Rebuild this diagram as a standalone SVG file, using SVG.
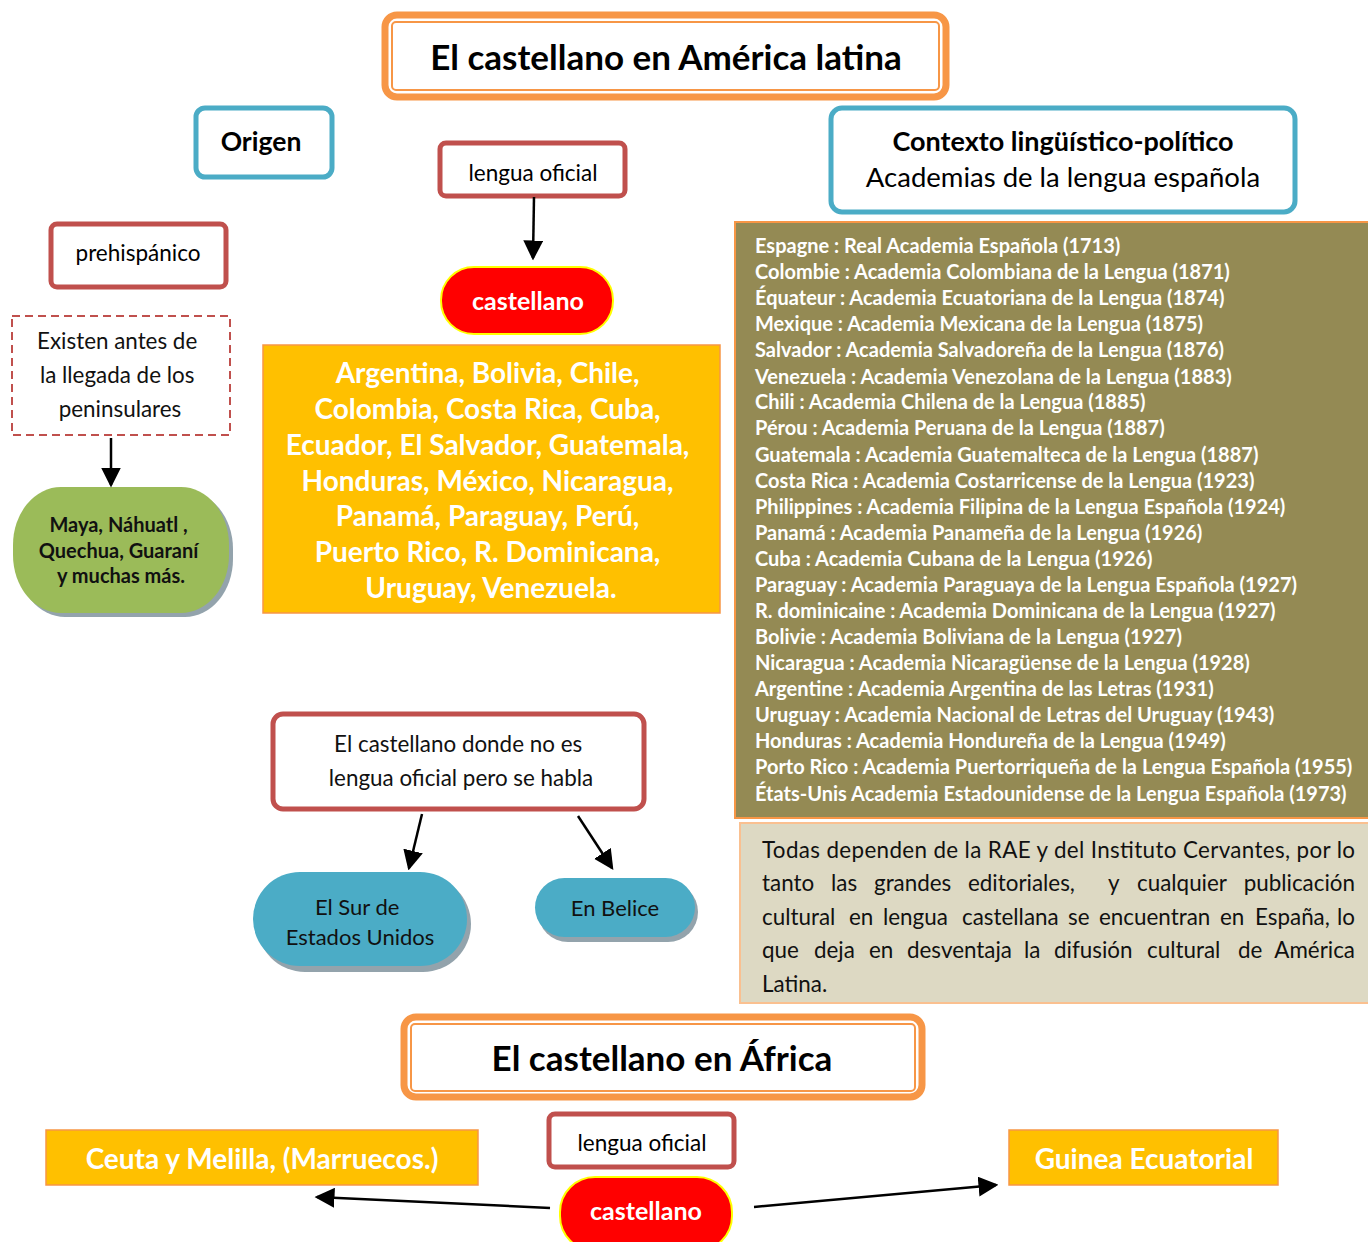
<svg xmlns="http://www.w3.org/2000/svg" width="1368" height="1242" viewBox="0 0 1368 1242">
<style>
text{font-family:Lato,"Liberation Sans",sans-serif;}
.c{text-anchor:middle;}
.e{text-anchor:end;}
.b{font-weight:bold;}
.red{fill:#fff;stroke:#C0504D;stroke-width:5;}
.teal{fill:#fff;stroke:#4BACC6;stroke-width:5;}
.ttl{fill:#fff;stroke:#F79646;stroke-width:7;}
.ttlin{fill:none;stroke:#F79646;stroke-width:2;}
.yel{fill:#FFC000;stroke:#F79646;stroke-width:1.5;}
.pill{fill:#FF0000;stroke:#FFFF00;stroke-width:2;}
.blue{fill:#4BACC6;}
.sh{fill:#93A3AC;}
.conn{stroke:#000;stroke-width:2.5;fill:none;marker-end:url(#ah);}
.ol{fill:#fff;font-size:20px;font-weight:bold;}
.jt{font-size:22.4px;fill:#111;}
</style>
<defs>
<marker id="ah" markerWidth="8" markerHeight="8" refX="7" refY="4" orient="auto" markerUnits="strokeWidth">
<path d="M0,0 L8,4 L0,8 z" fill="#000"/>
</marker>
</defs>

<g id="title-america">
<rect class="ttl" x="385" y="15" width="561" height="82" rx="12"/>
<rect class="ttlin" x="392" y="22" width="547" height="68" rx="4"/>
<text class="c b" x="666" y="70" font-size="35">El castellano en América latina</text>
</g>

<g id="origen">
<rect class="teal" x="196" y="108" width="136" height="69" rx="9"/>
<text class="c b" x="261" y="151" font-size="26.5">Origen</text>
</g>

<g id="lengua-oficial-1">
<rect class="red" x="440" y="143" width="185" height="53" rx="6"/>
<text class="c" x="533" y="181" font-size="22.5">lengua oficial</text>
</g>

<g id="castellano-1">
<rect class="pill" x="441" y="267" width="172" height="67" rx="33"/>
<text class="c b" x="528" y="310" font-size="25" fill="#fff">castellano</text>
</g>

<g id="paises">
<rect class="yel" x="263" y="345" width="457" height="268"/>
<text class="c b" x="491" font-size="28" fill="#fff">
<tspan x="491" y="383">Argentina,  Bolivia,  Chile,</tspan>
<tspan x="491" y="419">Colombia,  Costa Rica, Cuba,</tspan>
<tspan x="491" y="455">Ecuador, El Salvador, Guatemala,</tspan>
<tspan x="491" y="491">Honduras, México, Nicaragua,</tspan>
<tspan x="491" y="526">Panamá, Paraguay, Perú,</tspan>
<tspan x="491" y="562">Puerto Rico, R. Dominicana,</tspan>
<tspan x="491" y="598">Uruguay, Venezuela.</tspan>
</text>
</g>

<g id="prehispanico">
<rect class="red" x="51" y="224" width="175" height="63" rx="6"/>
<text class="c" x="138" y="261" font-size="22.5">prehispánico</text>
</g>

<g id="existen">
<rect x="12" y="316" width="218" height="119" fill="#fff" stroke="#C0504D" stroke-width="2" stroke-dasharray="8,5"/>
<text class="c" font-size="22.4" fill="#111">
<tspan x="120" y="349">Existen antes de</tspan>
<tspan x="120" y="383">la llegada de los</tspan>
<tspan x="120" y="417">peninsulares</tspan>
</text>
</g>

<g id="lenguas">
<rect class="sh" x="17" y="491" width="216" height="126" rx="48" ry="58"/>
<rect x="13" y="487" width="216" height="126" rx="48" ry="58" fill="#9BBB59"/>
<text class="c b" font-size="20" fill="#111">
<tspan x="121" y="532">Maya, Náhuatl ,</tspan>
<tspan x="121" y="558">Quechua, Guaraní</tspan>
<tspan x="121" y="583">y muchas más.</tspan>
</text>
</g>

<g id="contexto">
<rect class="teal" x="831" y="108" width="464" height="104" rx="11"/>
<text class="c b" x="1063" y="151" font-size="27">Contexto lingüístico-político</text>
<text class="c" x="1063" y="187" font-size="27.5">Academias de la lengua española</text>
</g>

<g id="academias">
<rect x="735" y="222" width="640" height="596" fill="#948A54" stroke="#F79646" stroke-width="2"/>
<text class="ol">
<tspan x="755" y="253">Espagne : Real Academia Española (1713)</tspan>
<tspan x="755" y="279">Colombie : Academia Colombiana de la Lengua (1871)</tspan>
<tspan x="755" y="305">Équateur : Academia Ecuatoriana de la Lengua (1874)</tspan>
<tspan x="755" y="331">Mexique : Academia Mexicana de la Lengua (1875)</tspan>
<tspan x="755" y="357">Salvador : Academia Salvadoreña de la Lengua (1876)</tspan>
<tspan x="755" y="384">Venezuela : Academia Venezolana de la Lengua (1883)</tspan>
<tspan x="755" y="409">Chili : Academia Chilena de la Lengua (1885)</tspan>
<tspan x="755" y="435">Pérou : Academia Peruana de la Lengua (1887)</tspan>
<tspan x="755" y="462">Guatemala : Academia Guatemalteca de la Lengua (1887)</tspan>
<tspan x="755" y="488">Costa Rica : Academia Costarricense de la Lengua (1923)</tspan>
<tspan x="755" y="514">Philippines : Academia Filipina de la Lengua Española (1924)</tspan>
<tspan x="755" y="540">Panamá : Academia Panameña de la Lengua (1926)</tspan>
<tspan x="755" y="566">Cuba : Academia Cubana de la Lengua (1926)</tspan>
<tspan x="755" y="592">Paraguay : Academia Paraguaya de la Lengua Española (1927)</tspan>
<tspan x="755" y="618">R. dominicaine : Academia Dominicana de la Lengua (1927)</tspan>
<tspan x="755" y="644">Bolivie : Academia Boliviana de la Lengua (1927)</tspan>
<tspan x="755" y="670">Nicaragua : Academia Nicaragüense de la Lengua (1928)</tspan>
<tspan x="755" y="696">Argentine : Academia Argentina de las Letras (1931)</tspan>
<tspan x="755" y="722">Uruguay : Academia Nacional de Letras del Uruguay (1943)</tspan>
<tspan x="755" y="748">Honduras : Academia Hondureña de la Lengua (1949)</tspan>
<tspan x="755" y="774">Porto Rico : Academia Puertorriqueña de la Lengua Española (1955)</tspan>
<tspan x="755" y="801">États-Unis Academia Estadounidense de la Lengua Española (1973)</tspan>
</text>
</g>

<g id="nota">
<rect x="740" y="823" width="635" height="180" fill="#DDD9C3" stroke="#FAC090" stroke-width="2"/>
<text class="jt" x="762" y="858" textLength="593" lengthAdjust="spacing">Todas dependen de la RAE y del Instituto Cervantes,  por lo</text>
<text class="jt" y="891"><tspan x="762">tanto</tspan><tspan x="831">las</tspan><tspan x="874">grandes</tspan><tspan x="968">editoriales,</tspan><tspan x="1108">y</tspan><tspan x="1137">cualquier</tspan></text>
<text class="jt e" x="1355" y="891">publicación</text>
<text class="jt" y="925"><tspan x="762">cultural</tspan><tspan x="849">en</tspan><tspan x="883">lengua</tspan><tspan x="962">castellana</tspan><tspan x="1068">se</tspan><tspan x="1099">encuentran</tspan><tspan x="1220">en</tspan><tspan x="1255">España,</tspan></text>
<text class="jt e" x="1355" y="925">lo</text>
<text class="jt" y="958"><tspan x="762">que</tspan><tspan x="814">deja</tspan><tspan x="869">en</tspan><tspan x="907">desventaja</tspan><tspan x="1024">la</tspan><tspan x="1054">difusión</tspan><tspan x="1147">cultural</tspan><tspan x="1238">de</tspan></text>
<text class="jt e" x="1355" y="958">América</text>
<text class="jt" x="762" y="992">Latina.</text>
</g>

<g id="no-oficial">
<rect class="red" x="273" y="714" width="371" height="95" rx="10"/>
<text class="c" font-size="22.4" fill="#111">
<tspan x="461" y="752">El castellano donde no es</tspan>
<tspan x="461" y="786">lengua oficial pero se habla</tspan>
</text>
</g>

<g id="sur-eeuu">
<rect class="sh" x="257" y="876" width="214" height="96" rx="48"/>
<rect class="blue" x="253" y="872" width="214" height="94" rx="47"/>
<text class="c" font-size="22" fill="#111">
<tspan x="360" y="915">El Sur de</tspan>
<tspan x="360" y="945">Estados Unidos</tspan>
</text>
</g>

<g id="belice">
<rect class="sh" x="538" y="882" width="160" height="60" rx="30"/>
<rect class="blue" x="535" y="878" width="160" height="59" rx="29.5"/>
<text class="c" x="615" y="916" font-size="22" fill="#111">En Belice</text>
</g>

<g id="title-africa">
<rect class="ttl" x="404" y="1017" width="518" height="80" rx="12"/>
<rect class="ttlin" x="411" y="1024" width="504" height="67" rx="4"/>
<text class="c b" x="662" y="1071" font-size="35">El castellano en África</text>
</g>

<g id="lengua-oficial-2">
<rect class="red" x="549" y="1114" width="185" height="53" rx="6"/>
<text class="c" x="642" y="1151" font-size="22.5">lengua oficial</text>
</g>

<g id="castellano-2">
<rect class="pill" x="560" y="1177" width="172" height="74" rx="35"/>
<text class="c b" x="646" y="1220" font-size="25" fill="#fff">castellano</text>
</g>

<g id="ceuta">
<rect class="yel" x="46" y="1130" width="432" height="55"/>
<text class="c b" x="262" y="1169" font-size="28" fill="#fff">Ceuta y Melilla, (Marruecos.)</text>
</g>

<g id="guinea">
<rect class="yel" x="1009" y="1130" width="269" height="55"/>
<text class="c b" x="1144" y="1169" font-size="28" fill="#fff">Guinea Ecuatorial</text>
</g>

<g id="connectors">
<line class="conn" x1="534" y1="197" x2="533" y2="258"/>
<line class="conn" x1="111" y1="438" x2="111" y2="485"/>
<line class="conn" x1="422" y1="814" x2="409" y2="868"/>
<line class="conn" x1="578" y1="816" x2="612" y2="868"/>
<line class="conn" x1="550" y1="1208" x2="317" y2="1197"/>
<line class="conn" x1="754" y1="1207" x2="996" y2="1185"/>
</g>
</svg>
